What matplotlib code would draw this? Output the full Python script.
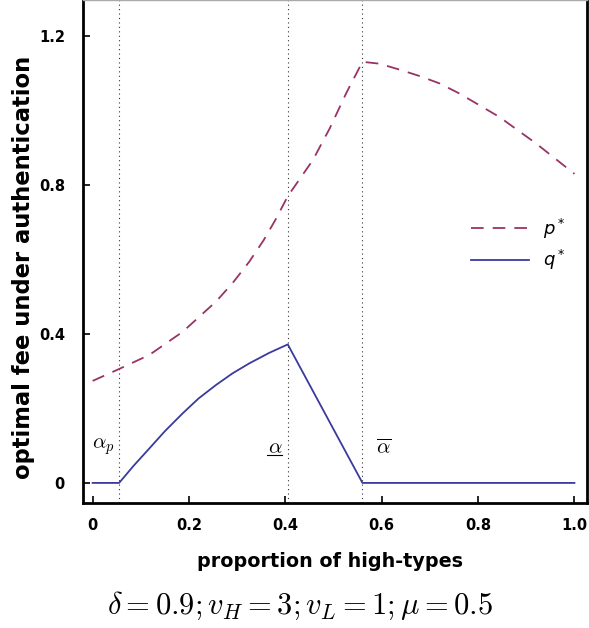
import numpy as np
from matplotlib import pyplot as plt

# proportion of high-types and the optimal fees
alpha_p = [0.0, 0.055, 0.118, 0.187, 0.256, 0.290, 0.325, 0.355, 0.380, 0.405,
           0.457, 0.492, 0.526, 0.560, 0.595, 0.637, 0.678, 0.720, 0.761, 0.844,
           0.920, 1.0]
p_star = [0.274, 0.306, 0.344, 0.406, 0.487, 0.536, 0.594, 0.652, 0.708, 0.770,
          0.867, 0.952, 1.046, 1.131, 1.126, 1.110, 1.093, 1.073, 1.046, 0.983,
          0.912, 0.830]

alpha_q = [0.0, 0.055, 0.085, 0.118, 0.150, 0.187, 0.220, 0.256, 0.290,
           0.325, 0.366, 0.405, 0.560, 1.0]
q_star = [0.0, 0.0, 0.046, 0.093, 0.139, 0.187, 0.227, 0.263, 0.294,
          0.321, 0.349, 0.372, 0.0, 0.0]

# thresholds (dotted lines)
thresholds = [0.055, 0.405, 0.560]
thr_labels = [r'$\alpha_p$', r'$\alpha$', r'$\overline{\alpha}$']

xticks = [0, 0.2, 0.4, 0.6, 0.8, 1.0]
xticklabels = ['0', '0.2', '0.4', '0.6', '0.8', '1.0']
yticks = [0, 0.4, 0.8, 1.2]
yticklabels = ['0', '0.4', '0.8', '1.2']

plt.rcParams['font.family'] = ['DejaVu Sans']

fig = plt.figure(figsize=(5.89, 6.28), dpi=100)
ax = fig.add_axes([0.1409, 0.199, 0.8557, 0.801])

for t in thresholds:
    ax.axvline(t, color='#333333', ls=(0, (1, 3)), lw=0.8, zorder=1)

ax.plot(alpha_p, p_star, color='#993366', lw=1.3, dashes=(7, 5), label=r'$p^*$')
ax.plot(alpha_q, q_star, color='#3a3a9e', lw=1.3, label=r'$q^*$')

# threshold labels
ax.text(-0.002, 0.097, thr_labels[0], fontsize=15, math_fontfamily='cm', va='center')
ax.text(0.363, 0.097, thr_labels[1], fontsize=15, math_fontfamily='cm', va='center')
ax.plot([0.362, 0.393], [0.075, 0.075], color='k', lw=0.8)
ax.text(0.588, 0.097, thr_labels[2], fontsize=15, math_fontfamily='cm', va='center')

ax.set_xlim(-0.02, 1.026)
ax.set_ylim(-0.054, 1.297)
ax.set_xticks(xticks)
ax.set_xticklabels(xticklabels, fontsize=10.5, fontweight='bold')
ax.set_yticks(yticks)
ax.set_yticklabels(yticklabels, fontsize=10.5, fontweight='bold')
ax.tick_params(direction='in', length=5, width=1.2)
ax.tick_params(axis='x', pad=11)
ax.tick_params(axis='y', pad=13)

for s in ['left', 'bottom', 'right']:
    ax.spines[s].set_linewidth(2)
ax.spines['top'].set_color('#aaaaaa')
ax.spines['top'].set_linewidth(1)

ax.set_xlabel('proportion of high-types', fontsize=13.8, fontweight='bold')
ax.set_ylabel('optimal fee under authentication', fontsize=16.3, fontweight='bold')
ax.xaxis.set_label_coords(0.49, -0.097)
ax.yaxis.set_label_coords(-0.095, 0.468)

leg = ax.legend(loc='upper right', bbox_to_anchor=(0.99, 0.602), frameon=False,
                fontsize=13, handlelength=3.2, labelspacing=0.4)
for txt in leg.get_texts():
    txt.set_math_fontfamily('dejavusans')

fig.text(0.51, 0.022, r'$\delta = 0.9; v_H = 3; v_L = 1; \mu = 0.5$',
         fontsize=22, math_fontfamily='cm', ha='center')

plt.savefig('out.png', dpi=100)
